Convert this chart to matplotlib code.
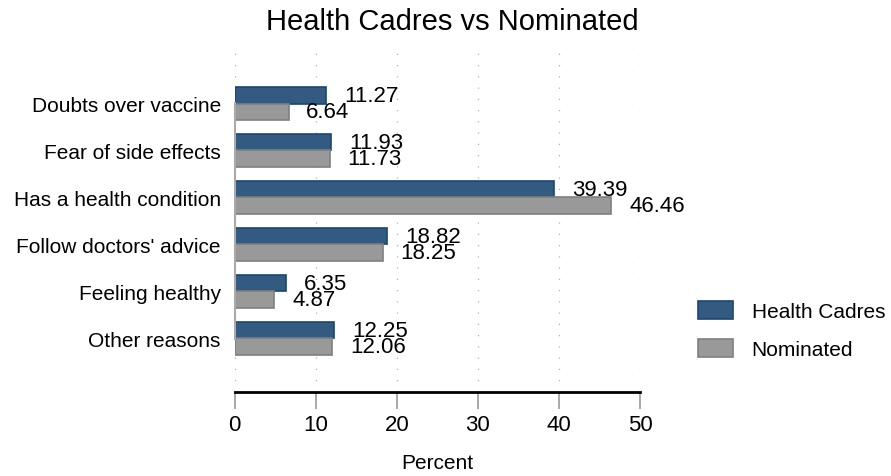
import numpy as np
import matplotlib
matplotlib.use("Agg")
import matplotlib.pyplot as plt

plt.rcParams['font.family'] = ['Liberation Sans Narrow', 'Liberation Sans', 'DejaVu Sans']

# data
reasons = ["Doubts over vaccine", "Fear of side effects", "Has a health condition",
           "Follow doctors' advice", "Feeling healthy", "Other reasons"]
cadres = [11.27, 11.93, 39.39, 18.82, 6.35, 12.25]
nominated = [6.64, 11.73, 46.46, 18.25, 4.87, 12.06]

blue = "#335a80"
blue_edge = "#1a476f"
grey = "#999999"
grey_edge = "#7f7f7f"
fs = 15

fig = plt.figure(figsize=(8.91, 4.77), dpi=100)
ax = fig.add_axes([234.7/891, 1 - 393/477, (640 - 234.7)/891, (393 - 50)/477])

y = np.arange(len(reasons))
h = 0.355
b1 = ax.barh(y - h/2, cadres, height=h, color=blue, edgecolor=blue_edge, linewidth=1.2, label="Health Cadres")
b2 = ax.barh(y + h/2, nominated, height=h, color=grey, edgecolor=grey_edge, linewidth=1.2, label="Nominated")

# value labels just right of each bar
for yy, v in zip(y, cadres):
    ax.text(v + 2.2, yy - h/2, "%.2f" % v, va="center", ha="left", fontsize=fs + 1)
for yy, v in zip(y, nominated):
    ax.text(v + 2.2, yy + h/2, "%.2f" % v, va="center", ha="left", fontsize=fs + 1)

ax.set_xlim(0, 50)
ax.set_ylim(5 + 1.14, -1.16)
ax.set_xticks([0, 10, 20, 30, 40, 50])
ax.set_yticks(y)
ax.set_yticklabels(reasons, fontsize=fs)
ax.tick_params(axis="y", length=0, pad=10)
ax.tick_params(axis="x", length=12, width=1.2, color="#999999", labelsize=fs + 1, pad=4)
ax.xaxis.grid(True, linestyle=(0, (1, 8)), color="#b0b0b0", linewidth=0.9)
ax.set_axisbelow(True)

for s in ["top", "right"]:
    ax.spines[s].set_visible(False)
ax.spines["bottom"].set_linewidth(2)
ax.spines["bottom"].set_color("black")
ax.spines["left"].set_color("#aaaaaa")
ax.spines["left"].set_linewidth(1.5)
ax.spines["left"].set_bounds(-0.02, 5.02)

ax.set_xlabel("Percent", fontsize=fs, labelpad=13)
fig.text(452/891, 1 - 22/477, "Health Cadres vs Nominated", ha="center", va="center", fontsize=21)

fig.legend(handles=[b1, b2], loc="center left", bbox_to_anchor=(679/891, 1 - 331/477),
           frameon=False, fontsize=fs, handlelength=1.68, handleheight=0.96, labelspacing=0.85,
           handletextpad=0.9)

fig.savefig("out.png", dpi=100)
